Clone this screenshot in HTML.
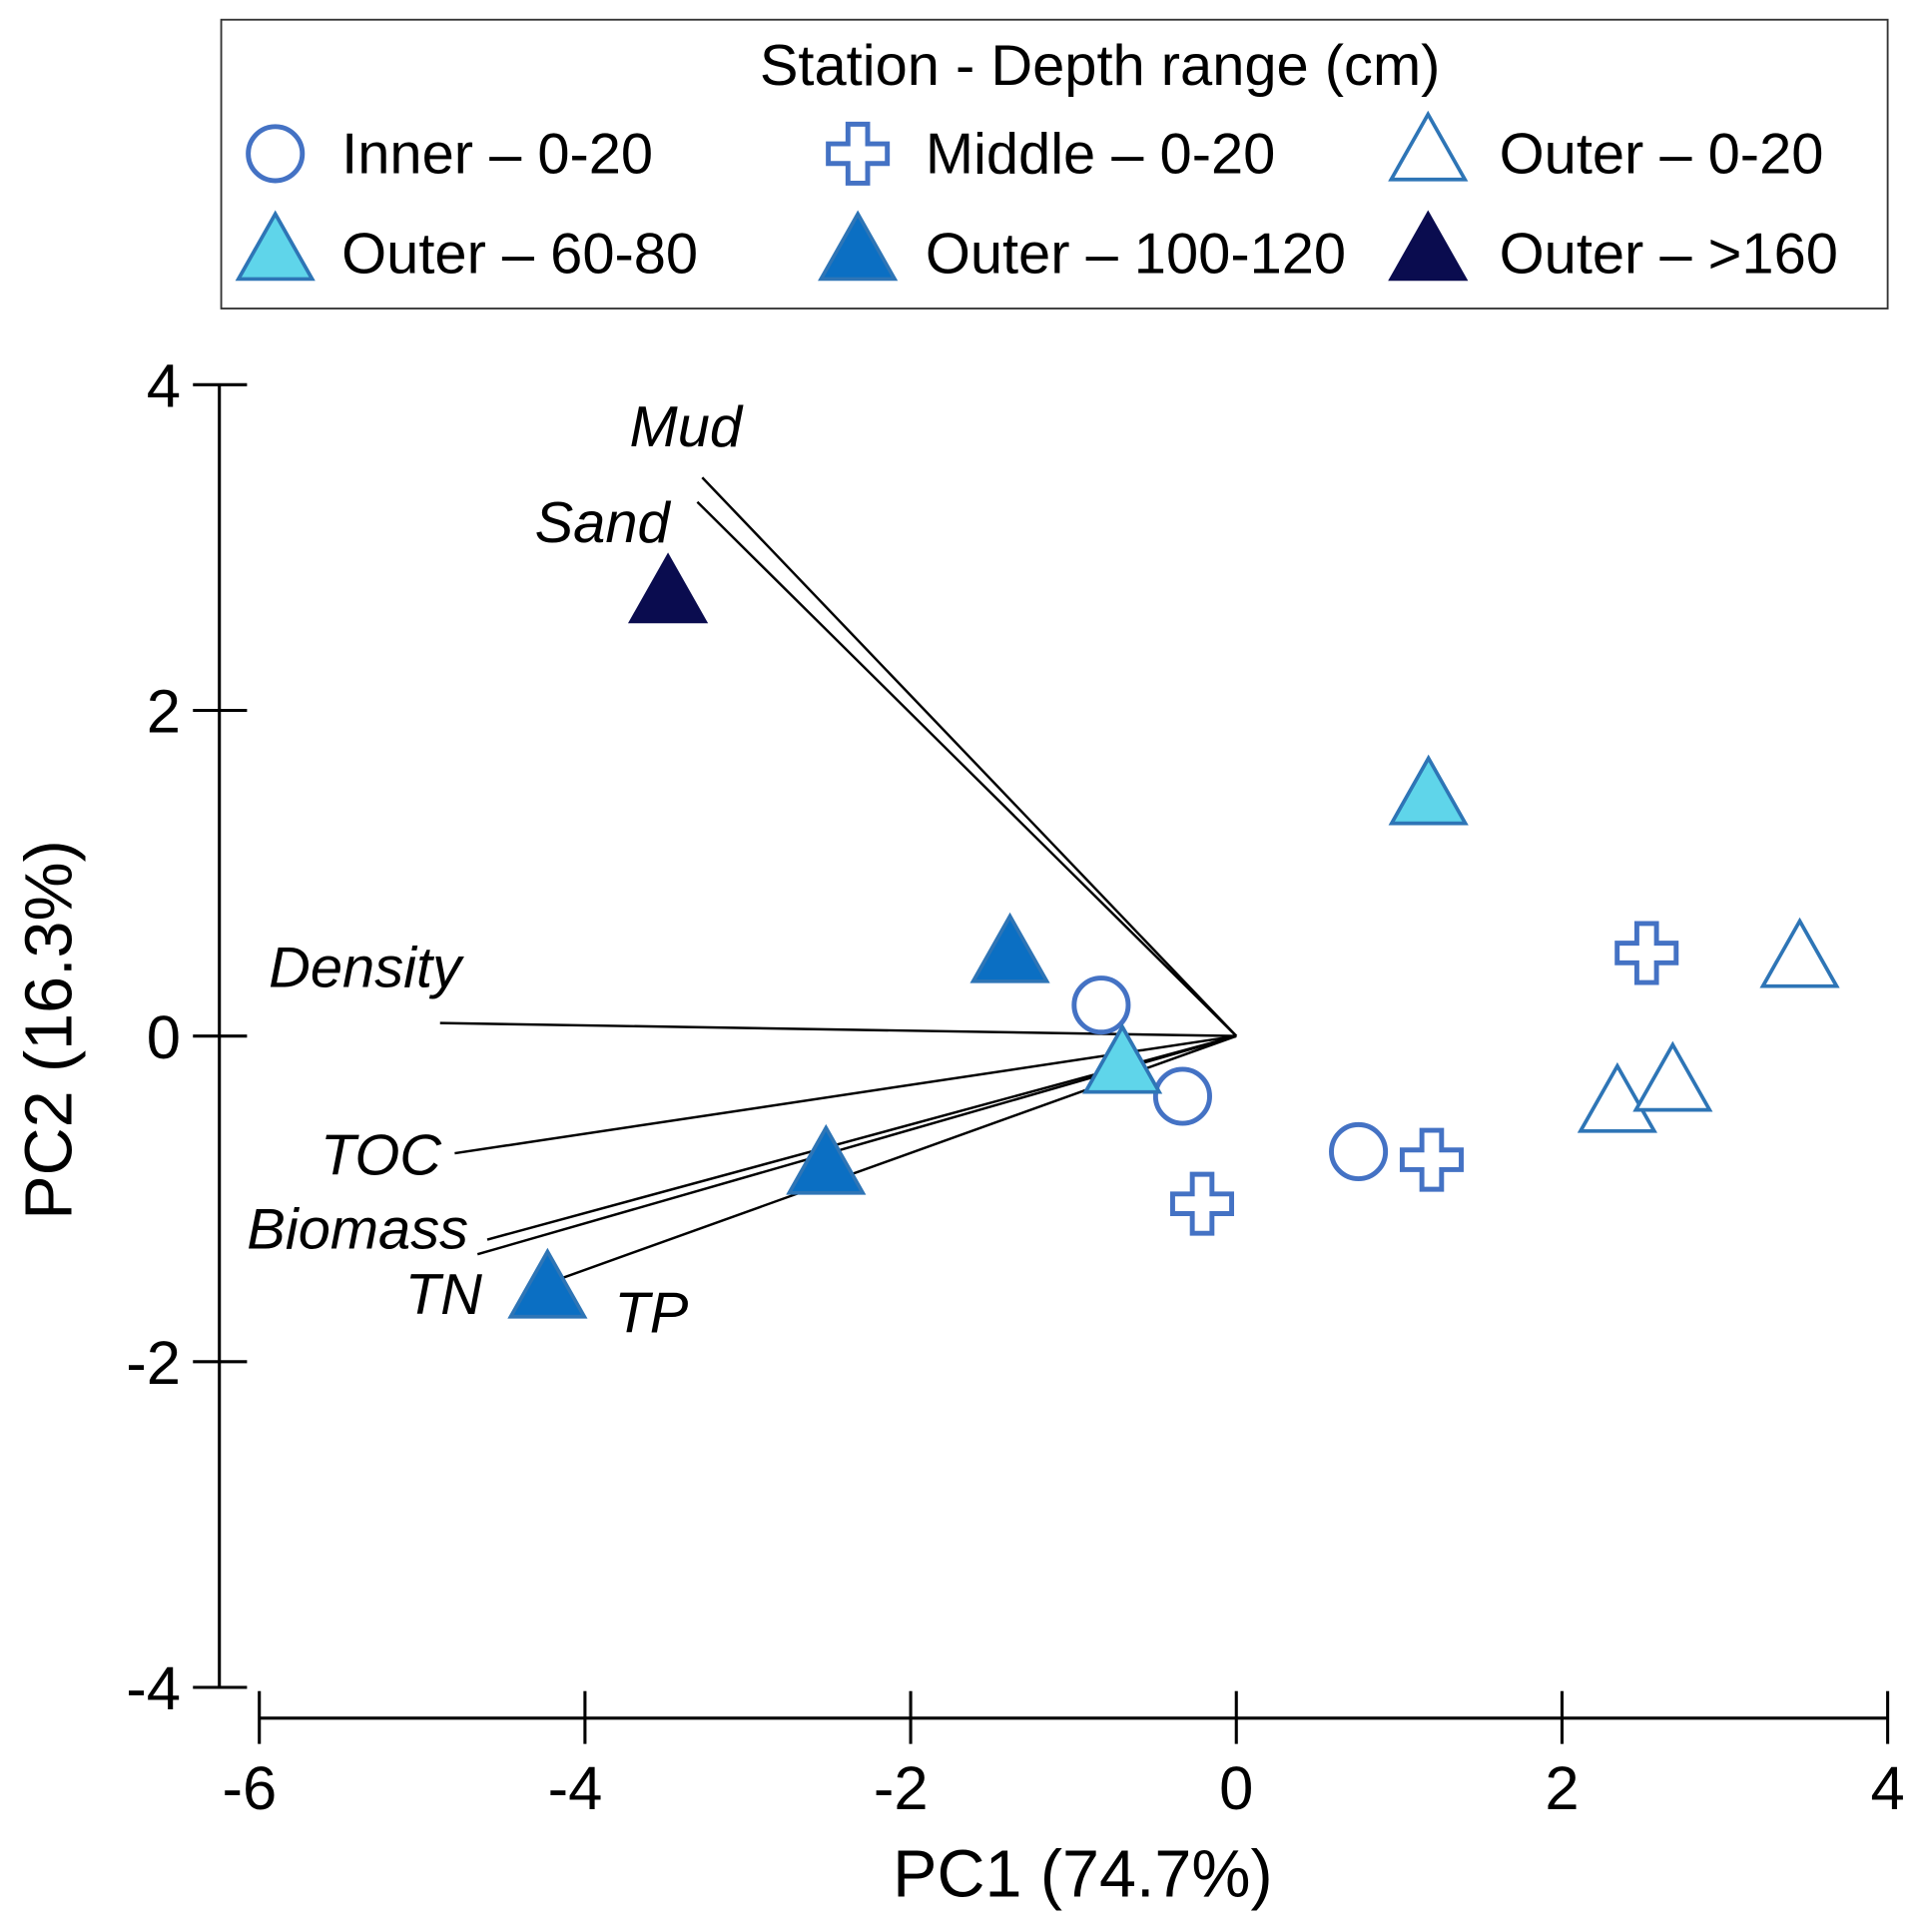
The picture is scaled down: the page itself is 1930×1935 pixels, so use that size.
<!DOCTYPE html>
<html><head><meta charset="utf-8"><style>
html,body{margin:0;padding:0;background:#fff;}
svg{display:block;font-family:"Liberation Sans",Arial,sans-serif;}
</style></head><body>
<svg id="chart" width="1930" height="1935" viewBox="0 0 1568 1572" xmlns="http://www.w3.org/2000/svg">
<g id="legend">
<rect x="180" y="16" width="1356" height="235" fill="#fff" stroke="#333" stroke-width="1.5"/>
<text x="895" y="69" font-size="47" text-anchor="middle">Station - Depth range (cm)</text>
</g>
<g id="axes"></g>
<g id="loadings"></g>
<g id="points"></g>
</svg>
<script>
const groupNames = ["Inner – 0-20","Middle – 0-20","Outer – 0-20","Outer – 60-80","Outer – 100-120","Outer – >160"];
const groupShapes = ["circle","plus","triangle","triangle","triangle","triangle"];
const groupFill = ["none","none","#ffffff","#5fd5ea","#0b6fc3","#0a0c4f"];
const groupStroke = ["#4472c4","#4472c4","#2e75b6","#2e75b6","#2e75b6","#0a0c4f"];
const ptGroup = [0,0,0, 1,1,1, 2,2,2, 3,3, 4,4,4, 5];
const ptPC1 = [-0.83,-0.33,0.75, -0.21,1.2,2.52, 3.46,2.34,2.68, 1.18,-0.70, -1.39,-2.52,-4.23, -3.49];
const ptPC2 = [0.19,-0.37,-0.71, -1.03,-0.76,0.51, 0.48,-0.41,-0.28, 1.48,-0.17, 0.51,-0.79,-1.55, 2.72];
const loadNames = ["Mud","Sand","Density","TOC","Biomass","TN","TP"];
const loadPC1 = [-3.28,-3.31,-4.89,-4.80,-4.60,-4.66,-4.29];
const loadPC2 = [3.43,3.28,0.08,-0.72,-1.25,-1.34,-1.54];
const labelPos = [[558,347,"middle"],[490,425,"middle"],[297,787,"middle"],[310,940,"middle"],[291,1000,"middle"],[361,1053,"middle"],[530,1068,"middle"]];
const xTicks = [-6,-4,-2,0,2,4];
const yTicks = [-4,-2,0,2,4];

const NS="http://www.w3.org/2000/svg";
const X = v => 1006 + v*132.5;
const Y = v => 843 - v*132.5;
function mk(tag, attrs, parent){const e=document.createElementNS(NS,tag);for(const k in attrs)e.setAttribute(k,attrs[k]);parent.appendChild(e);return e;}
function marker(shape, cx, cy, fill, stroke, parent){
  if(shape==="circle") return mk("circle",{cx:cx,cy:cy,r:22,fill:"none",stroke:stroke,"stroke-width":4},parent);
  if(shape==="plus"){const a=8,b=24;
    const p=[[-a,-b],[a,-b],[a,-a],[b,-a],[b,a],[a,a],[a,b],[-a,b],[-a,a],[-b,a],[-b,-a],[-a,-a]].map(q=>(cx+q[0])+","+(cy+q[1])).join(" ");
    return mk("polygon",{points:p,fill:"#fff",stroke:stroke,"stroke-width":4},parent);}
  const p=[[0,-30],[30,23],[-30,23]].map(q=>(cx+q[0])+","+(cy+q[1])).join(" ");
  return mk("polygon",{points:p,fill:fill,stroke:stroke,"stroke-width":3,"stroke-linejoin":"miter"},parent);
}
const svg=document.getElementById("chart");
const axes=document.getElementById("axes");
const lg=document.getElementById("legend");
const lx=[224,698,1162], tx=[278,753,1220], ly=[125,206];
groupNames.forEach((n,i)=>{
  const c=i%3, r=Math.floor(i/3);
  const m=marker(groupShapes[i], lx[c], ly[r]+(groupShapes[i]==="triangle"?-2:0), groupFill[i], groupStroke[i], lg);
  
  
  const t=mk("text",{x:tx[c],y:ly[r]+16,"font-size":47},lg); t.textContent=n;
  
  
});
let l=mk("line",{x1:178.5,y1:Y(4),x2:178.5,y2:Y(-4),stroke:"#000","stroke-width":2.5},axes);


l=mk("line",{x1:X(-6),y1:1398,x2:X(4),y2:1398,stroke:"#000","stroke-width":2.5},axes);


yTicks.forEach(v=>{
  const t=mk("line",{x1:157,y1:Y(v),x2:201,y2:Y(v),stroke:"#000","stroke-width":2.5},axes);
  
  
  const s=mk("text",{x:147,y:Y(v)+18,"font-size":50,"text-anchor":"end"},axes); s.textContent=v;
  
  
});
xTicks.forEach(v=>{
  const t=mk("line",{x1:X(v),y1:1376,x2:X(v),y2:1419,stroke:"#000","stroke-width":2.5},axes);
  
  
  const s=mk("text",{x:X(v)+(v<0?-8:0),y:1472,"font-size":50,"text-anchor":"middle"},axes); s.textContent=v;
  
  
});
let at=mk("text",{x:881,y:1543,"font-size":54,"text-anchor":"middle"},axes); at.textContent="PC1 (74.7%)";


at=mk("text",{x:0,y:0,"font-size":54,"text-anchor":"middle",transform:"translate(58,838) rotate(-90)"},axes); at.textContent="PC2 (16.3%)";


const ld=document.getElementById("loadings");
loadNames.forEach((n,i)=>{
  const v=mk("line",{x1:X(0),y1:Y(0),x2:X(loadPC1[i]),y2:Y(loadPC2[i]),stroke:"#000","stroke-width":2},ld);
  
  
  const t=mk("text",{x:labelPos[i][0],y:labelPos[i][1]+16,"font-size":47,"font-style":"italic","text-anchor":labelPos[i][2]},ld); t.textContent=n;
  
  
});
const pg=document.getElementById("points");
ptPC1.forEach((v,i)=>{
  const g=ptGroup[i];
  const m=marker(groupShapes[g], X(v), Y(ptPC2[i]), groupFill[g], groupStroke[g], pg);
  
  
});
</script>
</body></html>
